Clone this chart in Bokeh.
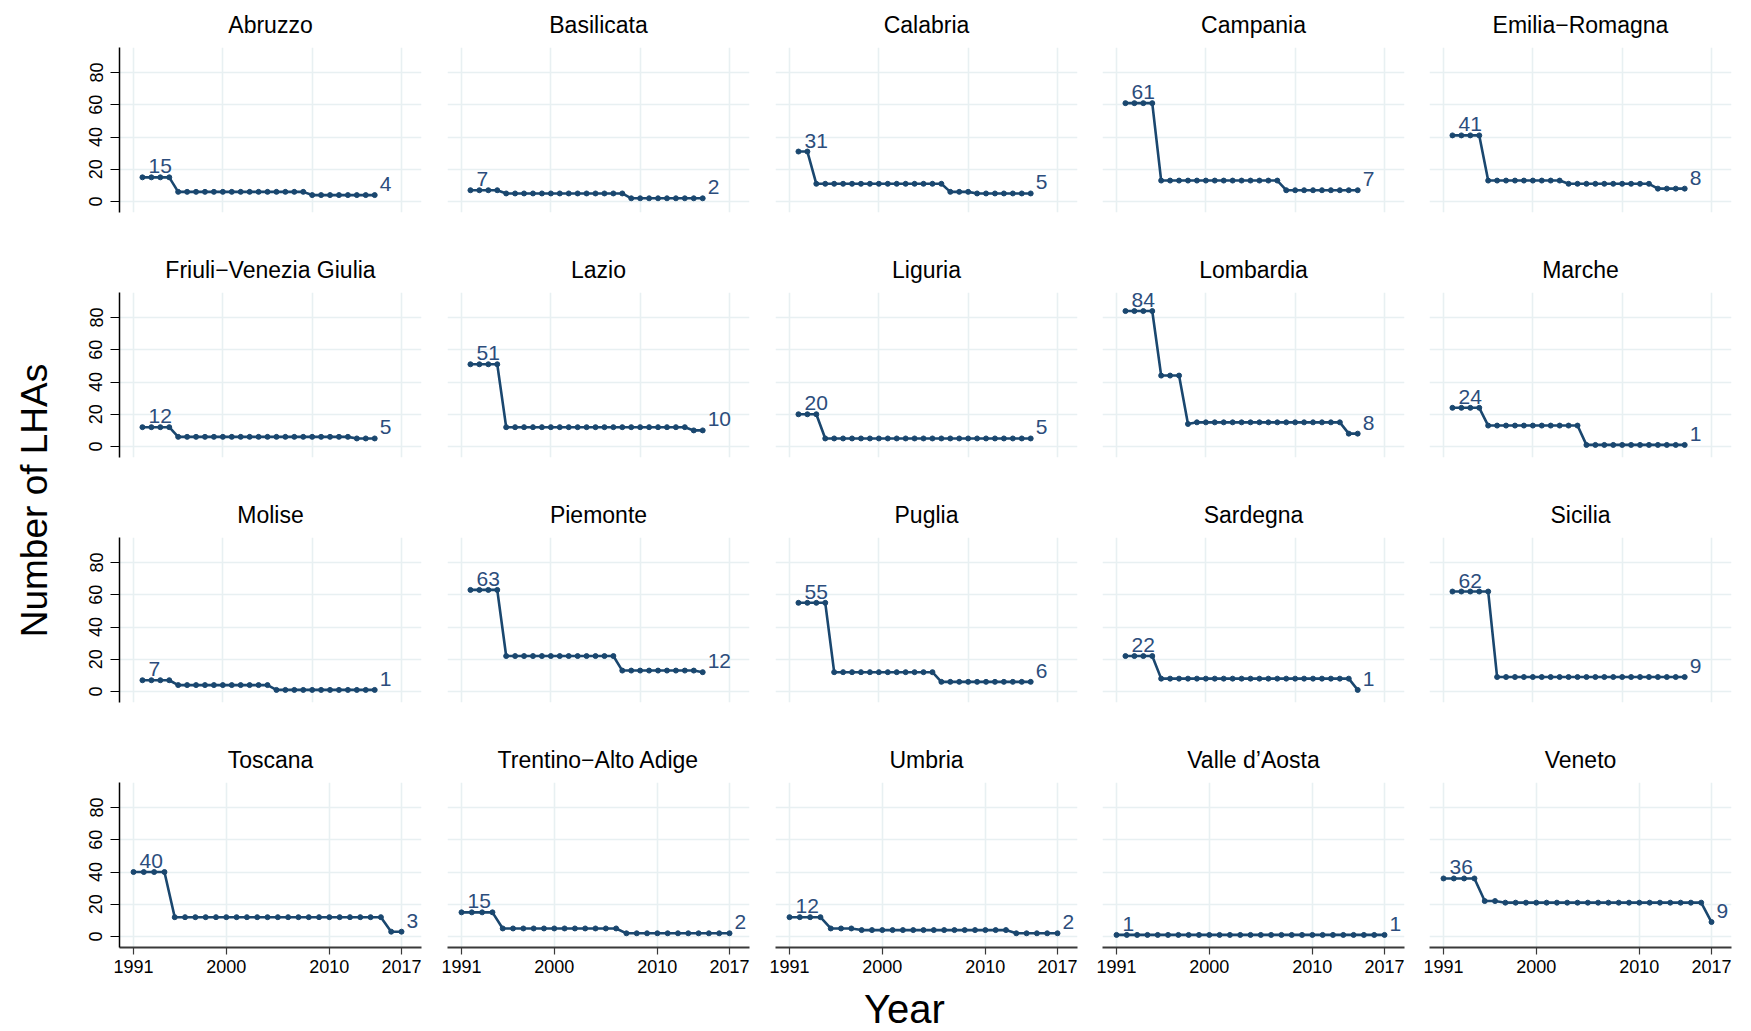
import math
from bokeh.plotting import figure
from bokeh.layouts import row, column
from bokeh.models import FixedTicker, ColumnDataSource, Range1d, Label
from bokeh.embed import file_html
from bokeh.resources import INLINE

# ---------------- data ----------------
years = list(range(1991, 2018))

regions = [
    "Abruzzo", "Basilicata", "Calabria", "Campania", "Emilia\u2212Romagna",
    "Friuli\u2212Venezia Giulia", "Lazio", "Liguria", "Lombardia", "Marche",
    "Molise", "Piemonte", "Puglia", "Sardegna", "Sicilia",
    "Toscana", "Trentino\u2212Alto Adige", "Umbria", "Valle d\u2019Aosta", "Veneto",
]

abruzzo    = [15, 15, 15, 15, 6, 6, 6, 6, 6, 6, 6, 6, 6, 6, 6, 6, 6, 6, 6, 4, 4, 4, 4, 4, 4, 4, 4]
basilicata = [7, 7, 7, 7, 5, 5, 5, 5, 5, 5, 5, 5, 5, 5, 5, 5, 5, 5, 2, 2, 2, 2, 2, 2, 2, 2, 2]
calabria   = [31, 31, 11, 11, 11, 11, 11, 11, 11, 11, 11, 11, 11, 11, 11, 11, 11, 6, 6, 6, 5, 5, 5, 5, 5, 5, 5]
campania   = [61, 61, 61, 61, 13, 13, 13, 13, 13, 13, 13, 13, 13, 13, 13, 13, 13, 13, 7, 7, 7, 7, 7, 7, 7, 7, 7]
emilia     = [41, 41, 41, 41, 13, 13, 13, 13, 13, 13, 13, 13, 13, 11, 11, 11, 11, 11, 11, 11, 11, 11, 11, 8, 8, 8, 8]
friuli     = [12, 12, 12, 12, 6, 6, 6, 6, 6, 6, 6, 6, 6, 6, 6, 6, 6, 6, 6, 6, 6, 6, 6, 6, 5, 5, 5]
lazio      = [51, 51, 51, 51, 12, 12, 12, 12, 12, 12, 12, 12, 12, 12, 12, 12, 12, 12, 12, 12, 12, 12, 12, 12, 12, 10, 10]
liguria    = [20, 20, 20, 5, 5, 5, 5, 5, 5, 5, 5, 5, 5, 5, 5, 5, 5, 5, 5, 5, 5, 5, 5, 5, 5, 5, 5]
lombardia  = [84, 84, 84, 84, 44, 44, 44, 14, 15, 15, 15, 15, 15, 15, 15, 15, 15, 15, 15, 15, 15, 15, 15, 15, 15, 8, 8]
marche     = [24, 24, 24, 24, 13, 13, 13, 13, 13, 13, 13, 13, 13, 13, 13, 1, 1, 1, 1, 1, 1, 1, 1, 1, 1, 1, 1]
molise     = [7, 7, 7, 7, 4, 4, 4, 4, 4, 4, 4, 4, 4, 4, 4, 1, 1, 1, 1, 1, 1, 1, 1, 1, 1, 1, 1]
piemonte   = [63, 63, 63, 63, 22, 22, 22, 22, 22, 22, 22, 22, 22, 22, 22, 22, 22, 13, 13, 13, 13, 13, 13, 13, 13, 13, 12]
puglia     = [55, 55, 55, 55, 12, 12, 12, 12, 12, 12, 12, 12, 12, 12, 12, 12, 6, 6, 6, 6, 6, 6, 6, 6, 6, 6, 6]
sardegna   = [22, 22, 22, 22, 8, 8, 8, 8, 8, 8, 8, 8, 8, 8, 8, 8, 8, 8, 8, 8, 8, 8, 8, 8, 8, 8, 1]
sicilia    = [62, 62, 62, 62, 62, 9, 9, 9, 9, 9, 9, 9, 9, 9, 9, 9, 9, 9, 9, 9, 9, 9, 9, 9, 9, 9, 9]
toscana    = [40, 40, 40, 40, 12, 12, 12, 12, 12, 12, 12, 12, 12, 12, 12, 12, 12, 12, 12, 12, 12, 12, 12, 12, 12, 3, 3]
trentino   = [15, 15, 15, 15, 5, 5, 5, 5, 5, 5, 5, 5, 5, 5, 5, 5, 2, 2, 2, 2, 2, 2, 2, 2, 2, 2, 2]
umbria     = [12, 12, 12, 12, 5, 5, 5, 4, 4, 4, 4, 4, 4, 4, 4, 4, 4, 4, 4, 4, 4, 4, 2, 2, 2, 2, 2]
valle      = [1, 1, 1, 1, 1, 1, 1, 1, 1, 1, 1, 1, 1, 1, 1, 1, 1, 1, 1, 1, 1, 1, 1, 1, 1, 1, 1]
veneto     = [36, 36, 36, 36, 22, 22, 21, 21, 21, 21, 21, 21, 21, 21, 21, 21, 21, 21, 21, 21, 21, 21, 21, 21, 21, 21, 9]

series = [abruzzo, basilicata, calabria, campania, emilia,
          friuli, lazio, liguria, lombardia, marche,
          molise, piemonte, puglia, sardegna, sicilia,
          toscana, trentino, umbria, valle, veneto]

y_ticks = [0, 20, 40, 60, 80]
grid_years_upper = [1990, 2000, 2010, 2020]
x_ticks_bottom = [1991, 2000, 2010, 2017]

# ---------------- style ----------------
FONT = "Liberation Sans"
NAVY = "#1a476f"
LABEL_COLOR = "#2c4d7c"
GRID = "#e8f0f2"

FRAME_W, FRAME_H = 302, 165
col_borders = [(59, 10), (16, 10), (16, 10), (15, 10), (15, 20)]


def make_panel(i):
    r, c = divmod(i, 5)
    bottom = (r == 3)
    bl, br = col_borders[c]
    if bottom:
        xr = Range1d(1989.64, 2018.94)
    else:
        xr = Range1d(1988.43, 2022.24)
    p = figure(frame_width=FRAME_W, frame_height=FRAME_H,
               x_range=xr, y_range=Range1d(-6.8, 95.5),
               min_border_left=bl, min_border_right=br,
               min_border_top=47, min_border_bottom=(34 if bottom else 33),
               x_axis_location=("below" if bottom else None),
               y_axis_location=("left" if c == 0 else None),
               output_backend="svg", toolbar_location=None,
               background_fill_color="white", border_fill_color="white")
    p.outline_line_color = None
    p.title.text = regions[i]
    p.title.align = "center"
    p.title.vertical_align = "middle"
    p.title.text_font = FONT
    p.title.text_font_size = "23px"
    p.title.text_font_style = "normal"
    p.title.text_color = "black"
    p.title.standoff = 17

    p.ygrid.ticker = FixedTicker(ticks=y_ticks)
    p.xgrid.ticker = FixedTicker(ticks=(x_ticks_bottom if bottom else grid_years_upper))
    for g in (p.xgrid, p.ygrid):
        g.grid_line_color = GRID
        g.grid_line_width = 1.6

    if c == 0:
        ax = p.yaxis[0]
        ax.ticker = FixedTicker(ticks=y_ticks)
        ax.axis_line_color = "black"
        ax.axis_line_width = 1.5
        ax.major_tick_line_color = "black"
        ax.major_tick_line_width = 1.2
        ax.major_tick_out = 9
        ax.major_tick_in = 0
        ax.minor_tick_line_color = None
        ax.major_label_orientation = "vertical"
        ax.major_label_text_font = FONT
        ax.major_label_text_font_size = "18px"
        ax.major_label_text_color = "black"
        ax.major_label_standoff = 8
    if bottom:
        ax = p.xaxis[0]
        ax.ticker = FixedTicker(ticks=x_ticks_bottom)
        ax.axis_line_color = "#3a3a3a"
        ax.axis_line_width = 2
        ax.major_tick_line_color = "#3a3a3a"
        ax.major_tick_line_width = 1.2
        ax.major_tick_out = 7
        ax.major_tick_in = 0
        ax.minor_tick_line_color = None
        ax.major_label_text_font = FONT
        ax.major_label_text_font_size = "18px"
        ax.major_label_text_color = "black"
        ax.major_label_standoff = 5

    vals = series[i]
    src = ColumnDataSource(dict(year=years, n=vals))
    p.line("year", "n", source=src, line_color=NAVY, line_width=2.6)
    p.scatter("year", "n", source=src, size=5, color=NAVY)

    p.add_layout(Label(x=years[0], y=vals[0], text=str(vals[0]),
                       x_offset=6, y_offset=4, text_align="left",
                       text_baseline="bottom", text_font=FONT,
                       text_font_size="21px", text_color=LABEL_COLOR))
    p.add_layout(Label(x=years[-1], y=vals[-1], text=str(vals[-1]),
                       x_offset=5, y_offset=4, text_align="left",
                       text_baseline="bottom", text_font=FONT,
                       text_font_size="21px", text_color=LABEL_COLOR))
    return p


panels = [make_panel(i) for i in range(20)]
rows = [row(*panels[r * 5:(r + 1) * 5]) for r in range(4)]

# Bottom "Year" title strip
year_fig = figure(width=1691, height=50, x_range=Range1d(60, 1751), y_range=Range1d(0, 50),
                  min_border=0, x_axis_location=None, y_axis_location=None,
                  output_backend="svg", toolbar_location=None)
year_fig.outline_line_color = None
year_fig.xgrid.visible = False
year_fig.ygrid.visible = False
year_fig.add_layout(Label(x=904, y=23, text="Year", text_align="center",
                          text_baseline="middle", text_font=FONT,
                          text_font_size="40px", text_color="black"))

# Left "Number of LHAs" strip
left_fig = figure(width=60, height=1031, x_range=Range1d(0, 60), y_range=Range1d(0, 1031),
                  min_border=0, x_axis_location=None, y_axis_location=None,
                  output_backend="svg", toolbar_location=None)
left_fig.outline_line_color = None
left_fig.xgrid.visible = False
left_fig.ygrid.visible = False
left_fig.add_layout(Label(x=34, y=1031 - 500, text="Number of LHAs", angle=math.pi / 2,
                          text_align="center", text_baseline="middle", text_font=FONT,
                          text_font_size="37px", text_color="black"))

layout = row(left_fig, column(*rows, year_fig))

with open("out.html", "w") as f:
    f.write(file_html(layout, INLINE))
